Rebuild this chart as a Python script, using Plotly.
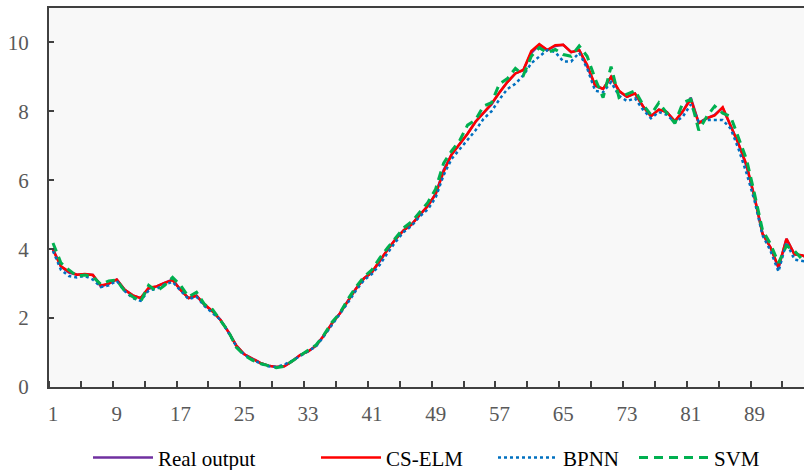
import plotly.graph_objects as go

categories = list(range(1, 97))

real_output = [
    4.00, 3.50, 3.32, 3.26, 3.27, 3.25, 2.92, 3.00, 3.12, 2.82,
    2.66, 2.58, 2.85, 2.92, 3.02, 3.12, 2.82, 2.58, 2.65, 2.38,
    2.20, 1.95, 1.60, 1.20, 0.95, 0.82, 0.70, 0.62, 0.58, 0.60,
    0.75, 0.93, 1.03, 1.20, 1.50, 1.85, 2.14, 2.50, 2.85, 3.15,
    3.33, 3.65, 4.00, 4.30, 4.55, 4.72, 5.00, 5.25, 5.60, 6.30,
    6.75, 7.05, 7.35, 7.70, 7.95, 8.20, 8.55, 8.85, 9.10, 9.20,
    9.70, 9.93, 9.78, 9.90, 9.93, 9.72, 9.78, 9.30, 8.75, 8.65,
    9.00, 8.58, 8.42, 8.52, 8.15, 7.86, 8.05, 7.98, 7.70, 8.00,
    8.40, 7.66, 7.80, 7.90, 8.10, 7.60, 7.05, 6.40, 5.50, 4.45,
    4.05, 3.45, 4.30, 3.85, 3.82, 3.70,
]

cs_elm = [
    3.98, 3.50, 3.35, 3.26, 3.28, 3.25, 2.95, 3.00, 3.12, 2.82,
    2.66, 2.58, 2.88, 2.92, 3.02, 3.10, 2.82, 2.58, 2.65, 2.40,
    2.20, 1.95, 1.60, 1.20, 0.95, 0.82, 0.70, 0.62, 0.58, 0.60,
    0.75, 0.93, 1.03, 1.20, 1.50, 1.85, 2.14, 2.50, 2.85, 3.15,
    3.33, 3.68, 4.00, 4.30, 4.55, 4.72, 5.00, 5.25, 5.60, 6.25,
    6.75, 7.05, 7.35, 7.70, 7.95, 8.22, 8.55, 8.85, 9.10, 9.20,
    9.75, 9.95, 9.78, 9.92, 9.93, 9.72, 9.78, 9.35, 8.75, 8.65,
    9.00, 8.60, 8.42, 8.52, 8.15, 7.86, 8.05, 7.98, 7.72, 8.00,
    8.35, 7.66, 7.80, 7.88, 8.12, 7.60, 7.05, 6.45, 5.50, 4.45,
    4.05, 3.48, 4.30, 3.85, 3.82, 3.70,
]

bpnn = [
    3.95, 3.40, 3.22, 3.18, 3.22, 3.12, 2.90, 2.95, 3.08, 2.78,
    2.58, 2.50, 2.80, 2.85, 2.98, 3.05, 2.80, 2.55, 2.62, 2.35,
    2.15, 1.95, 1.58, 1.18, 0.93, 0.80, 0.68, 0.60, 0.58, 0.65,
    0.76, 0.90, 1.03, 1.18, 1.48, 1.80, 2.10, 2.45, 2.80, 3.10,
    3.28, 3.55, 3.90, 4.22, 4.50, 4.68, 4.95, 5.15, 5.50, 6.15,
    6.62, 6.90, 7.20, 7.45, 7.78, 8.00, 8.35, 8.65, 8.80, 9.05,
    9.40, 9.60, 9.78, 9.72, 9.45, 9.45, 9.70, 9.25, 8.60, 8.55,
    8.85, 8.45, 8.30, 8.38, 8.05, 7.80, 7.98, 7.90, 7.68, 7.85,
    8.20, 7.70, 7.75, 7.75, 7.75, 7.50, 6.90, 6.20, 5.40, 4.40,
    3.95, 3.35, 4.20, 3.70, 3.65, 3.62,
]

svm = [
    4.18, 3.60, 3.40, 3.22, 3.25, 3.20, 2.98, 3.08, 3.10, 2.78,
    2.62, 2.48, 2.95, 2.78, 2.95, 3.18, 2.95, 2.62, 2.75, 2.40,
    2.25, 1.95, 1.62, 1.15, 0.92, 0.78, 0.68, 0.62, 0.56, 0.60,
    0.75, 0.92, 1.05, 1.22, 1.52, 1.88, 2.15, 2.55, 2.90, 3.20,
    3.40, 3.75, 4.05, 4.35, 4.62, 4.80, 5.08, 5.35, 5.75, 6.50,
    6.85, 7.15, 7.60, 7.75, 8.15, 8.25, 8.80, 8.95, 9.25, 9.05,
    9.60, 9.85, 9.70, 9.80, 9.65, 9.60, 9.90, 9.60, 8.95, 8.40,
    9.30, 8.40, 8.50, 8.60, 8.20, 7.90, 8.25, 7.95, 7.65, 8.25,
    8.35, 7.45, 7.85, 8.15, 7.95, 7.85, 7.20, 6.60, 5.60, 4.55,
    4.15, 3.60, 4.10, 3.95, 3.70, 3.65,
]

x_tick_labels = [1, 9, 17, 25, 33, 41, 49, 57, 65, 73, 81, 89]
y_tick_values = [0, 2, 4, 6, 8, 10]
series_names = ["Real output", "CS-ELM", "BPNN", "SVM"]

FONT = "Liberation Serif, Times New Roman, serif"
AXIS_COLOR = "#404040"

fig = go.Figure()
styles = [
    dict(color="#7030A0", width=2.5, dash="solid"),
    dict(color="#FF0000", width=2.5, dash="solid"),
    dict(color="#0070C0", width=2.5, dash="dot"),
    dict(color="#00B050", width=3, dash="9px,6px"),
]
series = [real_output, cs_elm, bpnn, svm]
legend_ids = ["legend", "legend2", "legend3", "legend4"]
legend_px = [93, 321, 498, 639]
legend_itemwidth = [60, 60, 60, 70]

for name, vals, st, lid in zip(series_names, series, styles, legend_ids):
    fig.add_trace(go.Scatter(
        x=categories, y=vals, mode="lines", name=name,
        line=st, legend=lid, showlegend=True,
    ))

PLOT_L, PLOT_W = 49, 755
legend_common = dict(
    orientation="h", yanchor="middle", y=-0.187, xanchor="left",
    font=dict(family=FONT, size=21, color="#000000"),
    bgcolor="rgba(0,0,0,0)", borderwidth=0,
)
layout_legends = {}
for lid, px, iw in zip(legend_ids, legend_px, legend_itemwidth):
    layout_legends[lid] = dict(legend_common, x=(px - PLOT_L - 5) / PLOT_W, itemwidth=iw)

fig.update_layout(
    width=804, height=470,
    margin=dict(l=PLOT_L, r=0, t=8, b=83, autoexpand=False),
    paper_bgcolor="#FFFFFF",
    plot_bgcolor="#F8F8F8",
    font=dict(family=FONT, size=21, color="#595959"),
    xaxis=dict(
        range=[0.5, 95.2],
        tickmode="array", tickvals=x_tick_labels,
        ticktext=[str(v) for v in x_tick_labels],
        ticks="", showgrid=False, zeroline=False,
        showline=True, linecolor=AXIS_COLOR, linewidth=2, mirror=True,
        ticklabelstandoff=7,
        tickfont=dict(family=FONT, size=21, color="#595959"),
        minor=dict(tickmode="array", tickvals=[0.5 + 4 * k for k in range(25)],
                   ticks="inside", ticklen=6, tickwidth=1.5,
                   tickcolor=AXIS_COLOR, showgrid=False),
    ),
    yaxis=dict(
        range=[0, 11],
        tickmode="array", tickvals=y_tick_values,
        ticks="inside", ticklen=5, tickwidth=2, tickcolor=AXIS_COLOR,
        showgrid=False, zeroline=False,
        showline=True, linecolor=AXIS_COLOR, linewidth=2,
        ticklabelstandoff=14,
        tickfont=dict(family=FONT, size=21, color="#595959"),
    ),
    **layout_legends,
)

fig.write_html("out.html")
